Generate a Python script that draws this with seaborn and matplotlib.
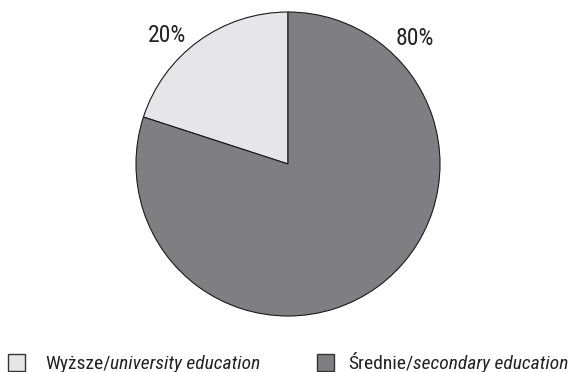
import matplotlib
matplotlib.use("Agg")
import matplotlib.pyplot as plt
import seaborn as sns

labels = ["Wyższe/", "Średnie/"]
labels_en = ["university education", "secondary education"]
shares = [20, 80]
colors = ["#e6e6e8", "#7f7f82"]

sns.set_style("white")
plt.rcParams["font.family"] = ["Roboto Condensed", "DejaVu Sans"]

W, H = 570, 372
fig = plt.figure(figsize=(W / 100, H / 100), dpi=100)
ax = fig.add_axes([136 / W, 56 / H, 304 / W, 304 / H])
ax.pie(shares, colors=colors, startangle=90, counterclock=True,
       wedgeprops=dict(edgecolor="#1a1a1a", linewidth=0.8))
ax.set_xlim(-1.0, 1.0)
ax.set_ylim(-1.0, 1.0)
ax.set_aspect("equal")

ax.text(-0.799, 0.803, f"{shares[0]}%", ha="center", va="baseline", fontsize=17, color="#222222")
ax.text(0.836, 0.783, f"{shares[1]}%", ha="center", va="baseline", fontsize=17, color="#222222")

# legend row along the bottom edge
y_base = 3
for i, (x_box, x_txt) in enumerate([(8, 45), (317, 348)]):
    fig.patches.append(plt.Rectangle((x_box / W, 1 / H), 17 / W, 17 / H,
                                     transform=fig.transFigure, facecolor=colors[i],
                                     edgecolor="#333333", linewidth=1.0))
    t = fig.text(x_txt / W, y_base / H, labels[i], ha="left", va="baseline",
                 fontsize=14, color="#222222")
    fig.canvas.draw()
    bb = t.get_window_extent()
    fig.text(bb.x1 / W, y_base / H, labels_en[i], ha="left", va="baseline", fontsize=14,
             style="italic", color="#222222")

fig.savefig("out.png", dpi=100)
